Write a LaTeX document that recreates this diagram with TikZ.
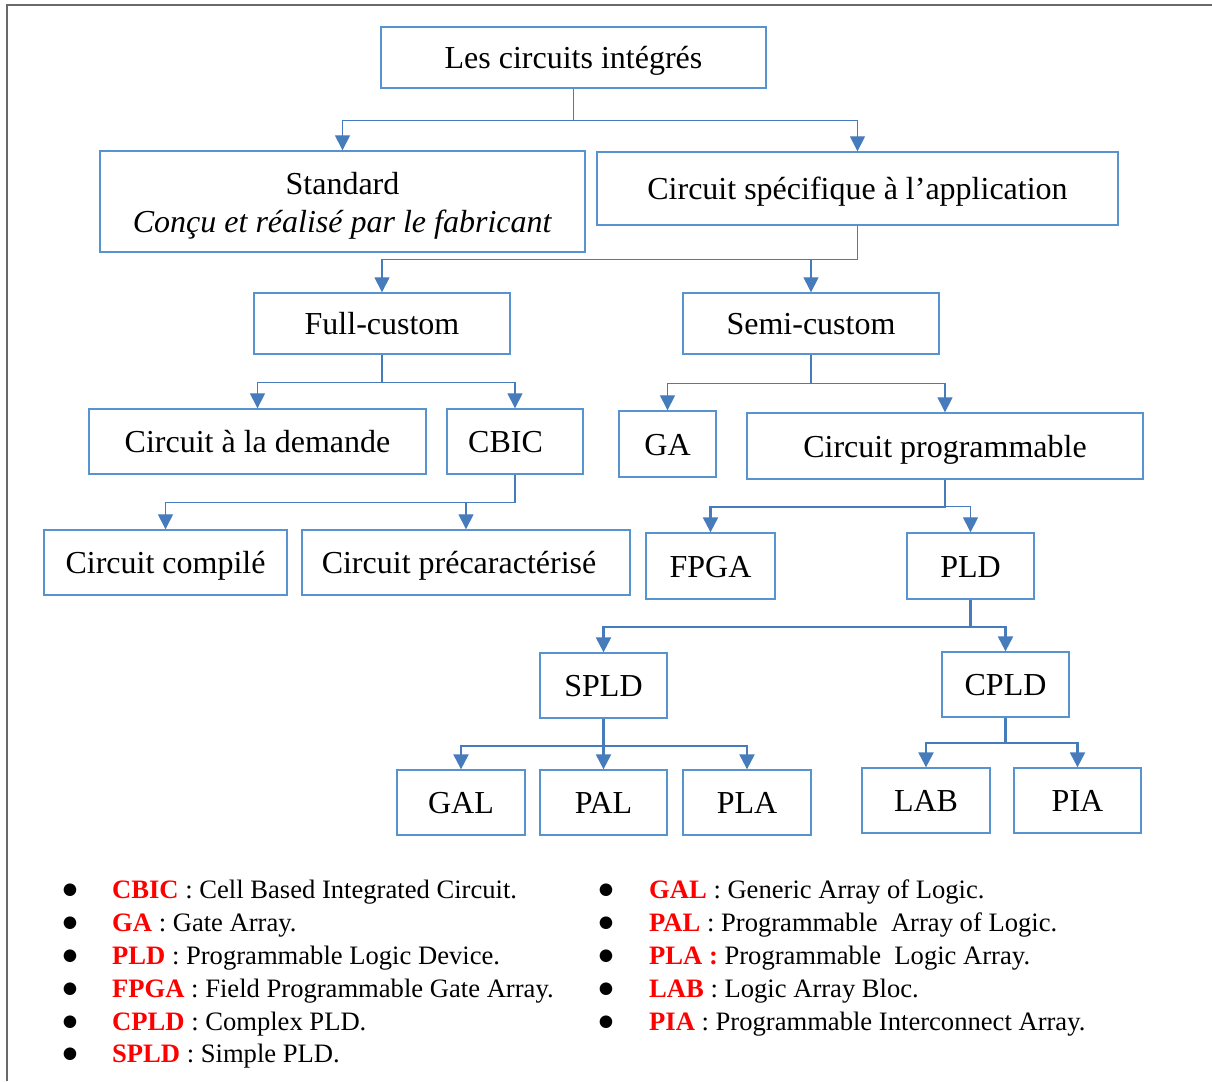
\documentclass[tikz,border=0pt]{standalone}
\usepackage{fontspec}
\setmainfont{Liberation Serif}
\newfontfamily\symbolfont{DejaVu Sans}
\usetikzlibrary{arrows.meta}

\definecolor{boxblue}{RGB}{86,147,207}
\definecolor{linkblue}{RGB}{70,124,188}
\definecolor{framegray}{RGB}{105,105,105}
\definecolor{termred}{RGB}{255,0,0}

\newcommand{\redterm}[1]{\textcolor{termred}{\textbf{#1}}}

\tikzset{
  box/.style={draw=boxblue, line width=1.3pt, rectangle, inner sep=0pt,
    font=\fontsize{32}{38}\selectfont, text height=26pt, text depth=4pt},
  link/.style={draw=linkblue, line width=1.1pt, -{Triangle[width=15pt,length=15pt]}},
  boldlink/.style={link, line width=2.2pt},
  bullet/.style={anchor=base, inner sep=0pt, yshift=4pt,
    font=\symbolfont\fontsize{16.5}{18}\selectfont},
  entry/.style={anchor=base west, inner sep=0pt, font=\fontsize{26.6}{32}\selectfont},
}

\begin{document}
\begin{tikzpicture}[x=1pt, y=-1pt]
\useasboundingbox (0,0) rectangle (1212,1081);

% page frame (top and left edges)
\draw[framegray, line width=2.5pt] (7,1081) -- (7,5) -- (1212,5);

% boxes
\node[box, minimum width=385pt, minimum height=61pt] (ic) at (573.5,57.5) {Les circuits intégrés};
\node[box, minimum width=485pt, minimum height=101pt, align=center,
      text height=69pt, text depth=8pt] (std) at (342.5,201.5)
      {Standard\\\textit{Conçu et réalisé par le fabricant}};
\node[box, minimum width=521pt, minimum height=73pt] (asic) at (857.5,188.5) {Circuit spécifique à l’application};
\node[box, minimum width=256pt, minimum height=61pt] (full) at (382,323.5) {Full-custom};
\node[box, minimum width=256pt, minimum height=61pt] (semi) at (811,323.5) {Semi-custom};
\node[box, minimum width=337pt, minimum height=65pt] (dem) at (257.5,441.5) {Circuit à la demande};
\node[box, minimum width=136pt, minimum height=65pt] (cbic) at (515,441.5) {CBIC\hspace*{19pt}};
\node[box, minimum width=97pt, minimum height=66pt] (ga) at (667.5,444) {GA};
\node[box, minimum width=396pt, minimum height=66pt] (prog) at (945,446) {Circuit programmable};
\node[box, minimum width=243pt, minimum height=65pt] (comp) at (165.5,562.5) {Circuit compilé};
\node[box, minimum width=328pt, minimum height=65pt] (prec) at (466,562.5) {Circuit précaractérisé\hspace*{14pt}};
\node[box, minimum width=129pt, minimum height=66pt] (fpga) at (710.5,566) {FPGA};
\node[box, minimum width=127pt, minimum height=66pt] (pld) at (970.5,566) {PLD};
\node[box, minimum width=127pt, minimum height=65pt] (spld) at (603.5,685.5) {SPLD};
\node[box, minimum width=127pt, minimum height=65pt] (cpld) at (1005.5,684.5) {CPLD};
\node[box, minimum width=128pt, minimum height=65pt] (gal) at (461,802.5) {GAL};
\node[box, minimum width=127pt, minimum height=65pt] (pal) at (603.5,802.5) {PAL};
\node[box, minimum width=128pt, minimum height=65pt] (pla) at (747,802.5) {PLA};
\node[box, minimum width=128pt, minimum height=65pt] (lab) at (926,800.5) {LAB};
\node[box, minimum width=127pt, minimum height=65pt] (pia) at (1077.5,800.5) {PIA};

% connectors
\draw[link] (ic.south) -- ++(0,32) -| (std.north);
\draw[link] (ic.south) -- ++(0,32) -| (asic.north);
\draw[link] (asic.south) -- ++(0,34) -| (full.north);
\draw[link] (asic.south) -- ++(0,34) -| (semi.north);
\draw[link] (full.south) -- ++(0,28) -| (dem.north);
\draw[link] (full.south) -- ++(0,28) -| (cbic.north);
\draw[link] (cbic.south) -- ++(0,28) -| (comp.north);
\draw[link] (cbic.south) -- ++(0,28) -| (prec.north);
\draw[link] (semi.south) -- ++(0,29) -| (ga.north);
\draw[link] (semi.south) -- ++(0,29) -| (prog.north);
\draw[boldlink] (prog.south) -- ++(0,27) -| (fpga.north);
\draw[link] (prog.south) -- ++(0,27) -| (pld.north);
\draw[boldlink] (pld.south) -- ++(0,27) -| (spld.north);
\draw[boldlink] (pld.south) -- ++(0,27) -| (cpld.north);
\draw[boldlink] (spld.south) -- ++(0,27) -| (gal.north);
\draw[boldlink] (spld.south) -- (pal.north);
\draw[boldlink] (spld.south) -- ++(0,27) -| (pla.north);
\draw[boldlink] (cpld.south) -- ++(0,25) -| (lab.north);
\draw[boldlink] (cpld.south) -- ++(0,25) -| (pia.north);

% glossary, left column
\node[bullet] (bl1) at (70,898) {●};
\node[entry] (tl1) at (112,898) {\redterm{CBIC} : Cell Based Integrated Circuit.};
\node[bullet] (bl2) at (70,931) {●};
\node[entry] (tl2) at (112,931) {\redterm{GA} : Gate Array.};
\node[bullet] (bl3) at (70,964) {●};
\node[entry] (tl3) at (112,964) {\redterm{PLD} : Programmable Logic Device.};
\node[bullet] (bl4) at (70,997) {●};
\node[entry] (tl4) at (112,997) {\redterm{FPGA} : Field Programmable Gate Array.};
\node[bullet] (bl5) at (70,1030) {●};
\node[entry] (tl5) at (112,1030) {\redterm{CPLD} : Complex PLD.};
\node[bullet] (bl6) at (70,1062) {●};
\node[entry] (tl6) at (112,1062) {\redterm{SPLD} : Simple PLD.};

% glossary, right column
\node[bullet] (br1) at (606,898) {●};
\node[entry] (tr1) at (649,898) {\redterm{GAL} : Generic Array of Logic.};
\node[bullet] (br2) at (606,931) {●};
\node[entry] (tr2) at (649,931) {\redterm{PAL} : Programmable~ Array of Logic.};
\node[bullet] (br3) at (606,964) {●};
\node[entry] (tr3) at (649,964) {\redterm{PLA :} Programmable~ Logic Array.};
\node[bullet] (br4) at (606,997) {●};
\node[entry] (tr4) at (649,997) {\redterm{LAB} : Logic Array Bloc.};
\node[bullet] (br5) at (606,1030) {●};
\node[entry] (tr5) at (649,1030) {\redterm{PIA} : Programmable Interconnect Array.};
\end{tikzpicture}
\end{document}
